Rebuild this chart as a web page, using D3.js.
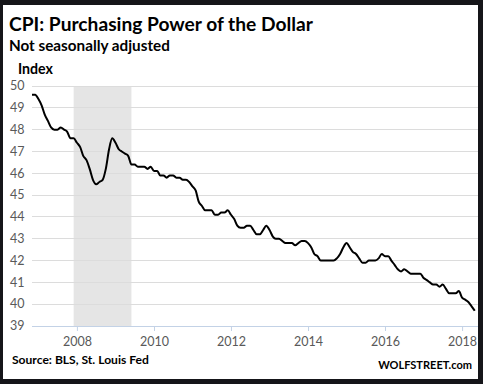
<!doctype html>
<html>
  <head>
    <meta charset="utf-8">
    <title>CPI: Purchasing Power of the Dollar</title>
    <script src="https://cdnjs.cloudflare.com/ajax/libs/d3/7.8.5/d3.min.js"></script>
    <style>
      body { margin: 0; background: #151519; }
      svg { display: block; }
      text { font-family: Lato, "Open Sans", sans-serif; }
    </style>
  </head>
  <body>
    <div id="chart"></div>
    <script>
      // monthly index values (Nov 2006 .. May 2018)
      const v2006 = [49.6, 49.6]
      const v2007 = [49.4, 49.1, 48.7, 48.4, 48.1, 48.0, 48.0, 48.1, 48.0, 47.9, 47.6, 47.6]
      const v2008 = [47.4, 47.2, 46.8, 46.6, 46.2, 45.7, 45.5, 45.6, 45.7, 46.2, 47.1, 47.6]
      const v2009 = [47.4, 47.1, 47.0, 46.9, 46.8, 46.4, 46.4, 46.3, 46.3, 46.3, 46.2, 46.3]
      const v2010 = [46.1, 46.1, 45.9, 45.9, 45.8, 45.9, 45.9, 45.8, 45.8, 45.7, 45.7, 45.6]
      const v2011 = [45.4, 45.2, 44.7, 44.5, 44.3, 44.3, 44.3, 44.1, 44.1, 44.2, 44.2, 44.3]
      const v2012 = [44.1, 43.9, 43.6, 43.5, 43.5, 43.6, 43.6, 43.4, 43.2, 43.2, 43.4, 43.6]
      const v2013 = [43.4, 43.1, 43.0, 43.0, 42.9, 42.8, 42.8, 42.8, 42.7, 42.8, 42.9, 42.9]
      const v2014 = [42.8, 42.6, 42.3, 42.2, 42.0, 42.0, 42.0, 42.0, 42.0, 42.1, 42.3, 42.6]
      const v2015 = [42.8, 42.6, 42.4, 42.3, 42.1, 41.9, 41.9, 42.0, 42.0, 42.0, 42.1, 42.3]
      const v2016 = [42.2, 42.2, 42.0, 41.8, 41.6, 41.5, 41.6, 41.5, 41.4, 41.4, 41.4, 41.4]
      const v2017 = [41.2, 41.1, 41.0, 40.9, 40.9, 40.8, 40.9, 40.7, 40.5, 40.5, 40.5, 40.6]
      const v2018 = [40.3, 40.2, 40.1, 39.9, 39.7]
      const startMonth = new Date(2006, 10, 1)
      const recession = [new Date(2007, 11, 1), new Date(2009, 5, 1)]
      const yTicks = [39, 40, 41, 42, 43, 44, 45, 46, 47, 48, 49, 50]
      const xTicks = [2008, 2010, 2012, 2014, 2016, 2018]

      const values = [].concat(v2006, v2007, v2008, v2009, v2010, v2011,
                               v2012, v2013, v2014, v2015, v2016, v2017, v2018)
      const data = values.map((v, i) => ({ date: d3.timeMonth.offset(startMonth, i), value: v }))

      const width = 483, height = 384
      const plotLeft = 32, plotRight = 478, plotTop = 86, plotBottom = 326

      const x = d3.scaleTime()
        .domain([startMonth, data[data.length - 1].date])
        .range([plotLeft, 474.75])
      const y = d3.scaleLinear().domain([39, 50]).range([plotBottom, plotTop])

      const svg = d3.select('#chart').append('svg')
        .attr('width', width)
        .attr('height', height)

      // white card inside the dark frame
      svg.append('rect')
        .attr('x', 3).attr('y', 5)
        .attr('width', 475).attr('height', 374)
        .attr('fill', '#fff')

      // recession band
      svg.append('rect')
        .attr('x', x(recession[0]))
        .attr('y', plotTop)
        .attr('width', x(recession[1]) - x(recession[0]))
        .attr('height', plotBottom - plotTop)
        .attr('fill', '#e5e5e5')

      // gridlines
      svg.append('g').selectAll('line')
        .data(yTicks)
        .join('line')
        .attr('x1', plotLeft).attr('x2', plotRight)
        .attr('y1', d => y(d)).attr('y2', d => y(d))
        .attr('stroke', d => d === 39 ? '#c3d2e6' : '#dcdcdc')
        .attr('stroke-width', 1)
        .attr('shape-rendering', 'crispEdges')

      // y labels
      svg.append('g').selectAll('text')
        .data(yTicks)
        .join('text')
        .attr('x', 24.5)
        .attr('y', d => y(d) + 4.3)
        .attr('text-anchor', 'end')
        .style('font-size', '12.5px')
        .style('fill', '#595959')
        .text(d => d)

      // x axis ticks + labels
      const xAxis = d3.axisBottom(x)
        .tickValues(xTicks.map(yr => new Date(yr, 0, 1)))
        .tickFormat(d3.timeFormat('%Y'))
        .tickSize(5)
        .tickPadding(6)
      const gx = svg.append('g')
        .attr('transform', `translate(0,${plotBottom})`)
        .call(xAxis)
      gx.select('.domain').remove()
      gx.selectAll('line').attr('stroke', '#c3d2e6')
      gx.selectAll('text')
        .style('font-family', 'Lato, "Open Sans", sans-serif')
        .style('font-size', '12.5px')
        .style('fill', '#595959')

      // the line
      const line = d3.line()
        .x(d => x(d.date))
        .y(d => y(d.value))
        .curve(d3.curveMonotoneX)
      svg.append('path')
        .datum(data)
        .attr('d', line)
        .attr('fill', 'none')
        .attr('stroke', '#000')
        .attr('stroke-width', 2)
        .attr('stroke-linejoin', 'round')

      // texts, sized to the widths seen in the picture
      function fitText(str, xPos, yPos, w, anchor) {
        const el = svg.append('text')
          .attr('x', xPos).attr('y', yPos)
          .attr('text-anchor', anchor || 'start')
          .style('font-weight', 'bold')
          .style('fill', '#000')
          .style('font-size', '20px')
          .text(str)
        const len = el.node().getComputedTextLength()
        el.style('font-size', (20 * w / len) + 'px')
        return el
      }
      fitText('CPI: Purchasing Power of the Dollar', 9, 31, 304)
      fitText('Not seasonally adjusted', 9, 51, 161)
      fitText('Index', 18, 74, 35)
      fitText('Source: BLS, St. Louis Fed', 12, 364, 137)
      fitText('WOLFSTREET.com', 472, 369, 94, 'end')
    </script>
  </body>
</html>
